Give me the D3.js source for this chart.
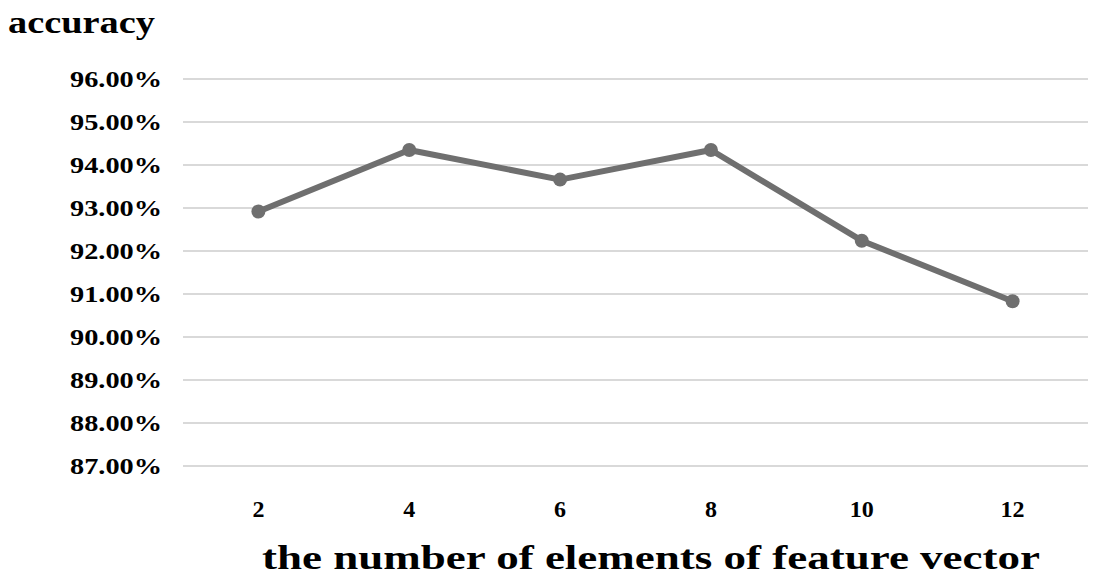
<!DOCTYPE html>
<html>
<head>
<meta charset="utf-8">
<script src="https://cdn.jsdelivr.net/npm/d3@7"></script>
<style>
  body { margin: 0; background: #fff; }
  text { font-family: "Liberation Serif", "Times New Roman", serif; font-weight: bold; fill: #000; }
</style>
</head>
<body>
<div id="plot"></div>
<script>
var categories = ['2', '4', '6', '8', '10', '12']
var accuracy = [92.92, 94.35, 93.66, 94.35, 92.24, 90.83]
var yTicks = [87, 88, 89, 90, 91, 92, 93, 94, 95, 96]

var width = 1099
var height = 583
var margin = { top: 79, right: 11, bottom: 116, left: 183 }

var svg = d3.select('#plot').append('svg')
  .attr('width', width)
  .attr('height', height)

var xScale = d3.scaleBand()
  .domain(categories)
  .range([margin.left, width - margin.right])

var yScale = d3.scaleLinear()
  .domain([87, 96])
  .range([height - margin.bottom - 1, margin.top])

// gridlines
svg.append('g')
  .selectAll('line')
  .data(yTicks)
  .join('line')
  .attr('x1', margin.left)
  .attr('x2', width - margin.right)
  .attr('y1', function(d) { return yScale(d) })
  .attr('y2', function(d) { return yScale(d) })
  .style('stroke', '#d9d9d9')
  .style('stroke-width', 2)

// y tick labels (source image is stretched horizontally)
svg.append('g')
  .selectAll('text')
  .data(yTicks)
  .join('text')
  .attr('x', 162)
  .attr('y', function(d) { return yScale(d) })
  .attr('dy', '0.35em')
  .attr('text-anchor', 'end')
  .attr('textLength', 92)
  .attr('lengthAdjust', 'spacingAndGlyphs')
  .style('font-size', '24px')
  .text(function(d) { return d.toFixed(2) + '%' })

// x tick labels
svg.append('g')
  .selectAll('text')
  .data(categories)
  .join('text')
  .attr('x', function(d) { return xScale(d) + xScale.bandwidth() / 2 })
  .attr('y', 517)
  .attr('text-anchor', 'middle')
  .style('font-size', '24px')
  .text(function(d) { return d })

var data = categories.map(function(c, i) { return { cat: c, value: accuracy[i] } })

var plotLine = d3.line()
  .x(function(d) { return xScale(d.cat) + xScale.bandwidth() / 2 })
  .y(function(d) { return yScale(d.value) })

svg.append('path')
  .datum(data)
  .attr('d', plotLine)
  .style('fill', 'none')
  .style('stroke', '#6f6f6f')
  .style('stroke-width', 6)
  .style('stroke-linejoin', 'round')

svg.append('g')
  .selectAll('circle')
  .data(data)
  .join('circle')
  .attr('cx', function(d) { return xScale(d.cat) + xScale.bandwidth() / 2 })
  .attr('cy', function(d) { return yScale(d.value) })
  .attr('r', 7)
  .style('fill', '#6f6f6f')

// titles
svg.append('text')
  .attr('x', 8)
  .attr('y', 33)
  .attr('textLength', 147)
  .attr('lengthAdjust', 'spacingAndGlyphs')
  .style('font-size', '31px')
  .text('accuracy')

svg.append('text')
  .attr('x', 262)
  .attr('y', 569)
  .attr('textLength', 778)
  .attr('lengthAdjust', 'spacingAndGlyphs')
  .style('font-size', '33px')
  .text('the number of elements of feature vector')
</script>
</body>
</html>
